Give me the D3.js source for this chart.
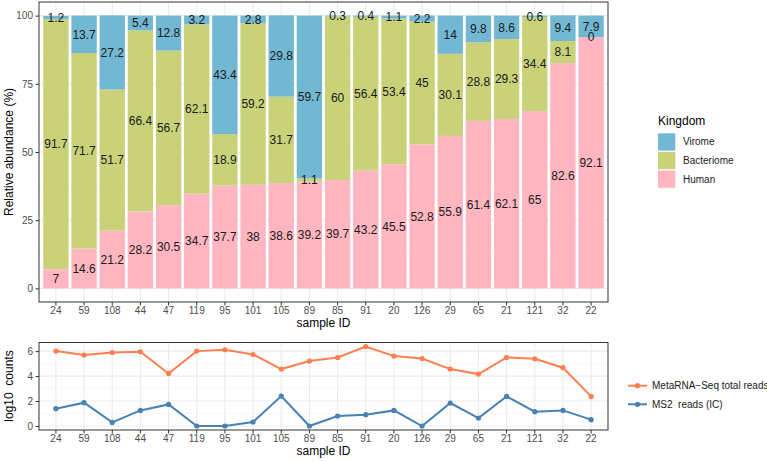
<!DOCTYPE html>
<html>
<head>
<meta charset="utf-8">
<script src="https://cdn.jsdelivr.net/npm/d3@7"></script>
<style>
  body { margin: 0; background: #fff; }
  svg { font-family: "Liberation Sans", Arial, sans-serif; }
</style>
</head>
<body>
<svg width="767" height="461"></svg>
<script>
// data
var samples = ["24", "59", "108", "44", "47", "119", "95", "101", "105", "89",
  "85", "91", "20", "126", "29", "65", "21", "121", "32", "22"];
var human = [7, 14.6, 21.2, 28.2, 30.5, 34.7, 37.7, 38, 38.6, 39.2,
  39.7, 43.2, 45.5, 52.8, 55.9, 61.4, 62.1, 65, 82.6, 92.1];
var bacteriome = [91.7, 71.7, 51.7, 66.4, 56.7, 62.1, 18.9, 59.2, 31.7, 1.1,
  60, 56.4, 53.4, 45, 30.1, 28.8, 29.3, 34.4, 8.1, 0];
var virome = [1.2, 13.7, 27.2, 5.4, 12.8, 3.2, 43.4, 2.8, 29.8, 59.7,
  0.3, 0.4, 1.1, 2.2, 14, 9.8, 8.6, 0.6, 9.4, 7.9];
var totalReads = [6.0, 5.68, 5.89, 5.95, 4.21, 6.0, 6.11, 5.73, 4.56, 5.2,
  5.49, 6.37, 5.6, 5.41, 4.56, 4.16, 5.49, 5.39, 4.67, 2.37];
var ms2Reads = [1.39, 1.87, 0.29, 1.25, 1.73, 0, 0, 0.32, 2.4, 0,
  0.8, 0.91, 1.25, 0, 1.84, 0.64, 2.37, 1.15, 1.25, 0.51];
var kingdoms = ["Virome", "Bacteriome", "Human"];
var topTicks = [0, 25, 50, 75, 100];
var topMinor = [12.5, 37.5, 62.5, 87.5];
var bottomTicks = [0, 2, 4, 6];
var bottomMinor = [1, 3, 5];
var lineNames = ["MetaRNA\u2212Seq total reads", "MS2  reads (IC)"];

var colors = { Virome: "#72b8d2", Bacteriome: "#c9d279", Human: "#ffb6c1" };
var lineColors = ["#ff7f50", "#4682b4"];

var svg = d3.select("svg");
var left = 39, right = 608;

var x = d3.scaleBand(samples, [left, right]).paddingInner(0.1).paddingOuter(0.15);
var xc = function (s) { return x(s) + x.bandwidth() / 2; };

function gridAndFrame(g, y, major, minor, top, bottom) {
  g.selectAll(".minor").data(minor).join("line")
    .attr("x1", left).attr("x2", right)
    .attr("y1", function (d) { return y(d); }).attr("y2", function (d) { return y(d); })
    .attr("stroke", "#f2f2f2").attr("stroke-width", 0.6);
  g.selectAll(".major").data(major).join("line")
    .attr("x1", left).attr("x2", right)
    .attr("y1", function (d) { return y(d); }).attr("y2", function (d) { return y(d); })
    .attr("stroke", "#ebebeb").attr("stroke-width", 1.1);
  g.selectAll(".vmajor").data(samples).join("line")
    .attr("x1", xc).attr("x2", xc)
    .attr("y1", top).attr("y2", bottom)
    .attr("stroke", "#ebebeb").attr("stroke-width", 1.1);
}

function axes(y, major, top, bottom) {
  var ay = svg.append("g").attr("transform", "translate(" + left + ",0)")
    .call(d3.axisLeft(y).tickValues(major).tickFormat(d3.format("d"))
      .tickSize(3.5).tickPadding(2.5));
  var ax = svg.append("g").attr("transform", "translate(0," + bottom + ")")
    .call(d3.axisBottom(x).tickSize(3.5).tickPadding(1.2));
  [ay, ax].forEach(function (a) {
    a.select(".domain").remove();
    a.selectAll(".tick line").attr("stroke", "#333");
    a.selectAll(".tick text").attr("fill", "#4d4d4d").attr("font-size", 10);
  });
  svg.append("rect").attr("x", left).attr("y", top)
    .attr("width", right - left).attr("height", bottom - top)
    .attr("fill", "none").attr("stroke", "#333").attr("stroke-width", 1);
}

// ---- top: stacked bars
var topY = d3.scaleLinear([-5, 105], [302, 2]);
var gTop = svg.append("g");
gridAndFrame(gTop, topY, topTicks, topMinor, 2, 302);

var rows = samples.map(function (s, i) {
  return { sample: s, Human: human[i], Bacteriome: bacteriome[i], Virome: virome[i] };
});
var stack = d3.stack().keys(["Human", "Bacteriome", "Virome"])(rows);

stack.forEach(function (layer) {
  gTop.append("g").selectAll("rect").data(layer).join("rect")
    .attr("x", function (d) { return x(d.data.sample); })
    .attr("width", x.bandwidth())
    .attr("y", function (d) { return topY(d[1]); })
    .attr("height", function (d) { return topY(d[0]) - topY(d[1]); })
    .attr("fill", colors[layer.key]);
});
stack.forEach(function (layer) {
  gTop.append("g").selectAll("text").data(layer).join("text")
    .attr("x", function (d) { return xc(d.data.sample); })
    .attr("y", function (d) { return topY((d[0] + d[1]) / 2); })
    .attr("dy", "0.35em")
    .attr("text-anchor", "middle")
    .attr("font-size", 12)
    .attr("fill", "#1a1a1a")
    .text(function (d) { return d.data[layer.key]; });
});
axes(topY, topTicks, 2, 302);

svg.append("text").attr("x", (left + right) / 2).attr("y", 327)
  .attr("text-anchor", "middle").attr("font-size", 12).text("sample ID");
svg.append("text").attr("transform", "translate(13,152) rotate(-90)")
  .attr("text-anchor", "middle").attr("font-size", 12).text("Relative abundance (%)");

// legend: Kingdom
var kl = svg.append("g").attr("transform", "translate(658,0)");
kl.append("text").attr("x", 0).attr("y", 125).attr("font-size", 12).text("Kingdom");
kingdoms.forEach(function (k, i) {
  var ky = 133.3 + i * 18.6;
  kl.append("rect").attr("x", 0).attr("y", ky).attr("width", 17.3).attr("height", 17.3)
    .attr("fill", colors[k]);
  kl.append("text").attr("x", 25).attr("y", ky + 8.6).attr("dy", "0.35em")
    .attr("font-size", 10).attr("fill", "#1a1a1a").text(k);
});

// ---- bottom: lines
var botY = d3.scaleLinear([-0.32, 6.69], [430, 342.5]);
var gBot = svg.append("g");
gridAndFrame(gBot, botY, bottomTicks, bottomMinor, 342.5, 430);

[totalReads, ms2Reads].forEach(function (vals, k) {
  var pts = samples.map(function (s, i) { return [xc(s), botY(vals[i])]; });
  gBot.append("path").attr("d", d3.line()(pts))
    .attr("fill", "none").attr("stroke", lineColors[k]).attr("stroke-width", 2);
  gBot.append("g").selectAll("circle").data(pts).join("circle")
    .attr("cx", function (d) { return d[0]; }).attr("cy", function (d) { return d[1]; })
    .attr("r", 2.6).attr("fill", lineColors[k]);
});
axes(botY, bottomTicks, 342.5, 430);

svg.append("text").attr("x", (left + right) / 2).attr("y", 454.5)
  .attr("text-anchor", "middle").attr("font-size", 12).text("sample ID");
svg.append("text").attr("transform", "translate(13,386) rotate(-90)")
  .attr("text-anchor", "middle").attr("font-size", 12).style("white-space", "pre")
  .text("log10  counts");

// legend: lines
lineNames.forEach(function (n, k) {
  var ly = 385.7 + k * 18.6;
  svg.append("line").attr("x1", 628).attr("x2", 647).attr("y1", ly).attr("y2", ly)
    .attr("stroke", lineColors[k]).attr("stroke-width", 2);
  svg.append("circle").attr("cx", 637.5).attr("cy", ly).attr("r", 2.6).attr("fill", lineColors[k]);
  svg.append("text").attr("x", 652).attr("y", ly).attr("dy", "0.35em")
    .attr("font-size", 10).attr("fill", "#1a1a1a").style("white-space", "pre").text(n);
});
</script>
</body>
</html>
